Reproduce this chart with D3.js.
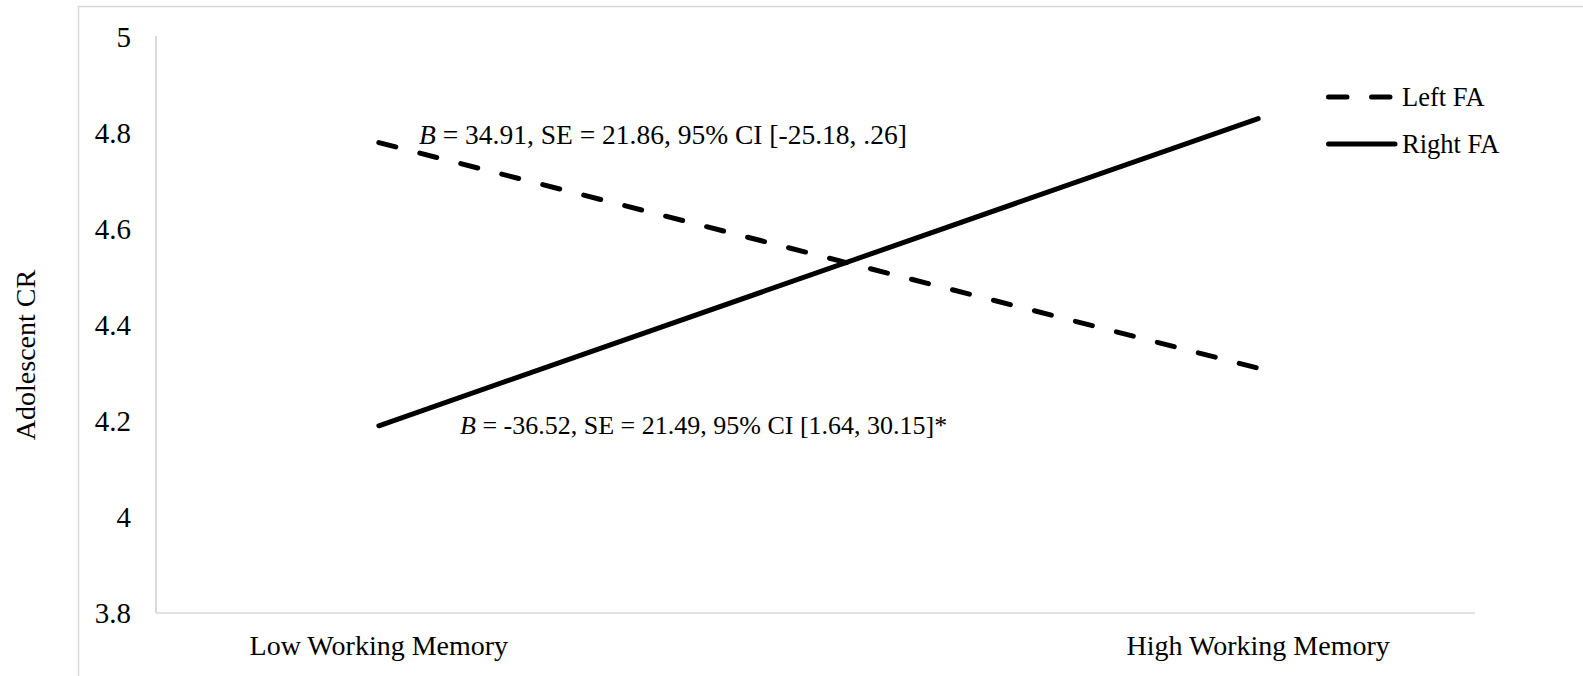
<!DOCTYPE html>
<html>
<head>
<meta charset="utf-8">
<script src="https://cdn.jsdelivr.net/npm/d3@7"></script>
<style>
  html, body { margin: 0; padding: 0; background: #fff; }
  svg { display: block; }
  svg text { font-family: "Liberation Serif", "Times New Roman", Times, "DejaVu Serif", serif; }
</style>
</head>
<body>
<svg id="chart" width="1583" height="676" font-family="Liberation Serif, Times New Roman, DejaVu Serif, serif"></svg>
<script>
// Simple slopes: Adolescent CR at low vs high working memory
const categories = ["Low Working Memory", "High Working Memory"];
const leftFA = [4.78, 4.31];
const rightFA = [4.19, 4.83];
const yTicks = [3.8, 4, 4.2, 4.4, 4.6, 4.8, 5];
const seriesNames = ["Left FA", "Right FA"];
const leftNote = " = 34.91, SE = 21.86, 95% CI [-25.18, .26]";
const rightNote = " = -36.52, SE = 21.49, 95% CI [1.64, 30.15]*";

const svg = d3.select("#chart");

// chart frame
svg.append("rect")
  .attr("x", 78.5).attr("y", 6.5)
  .attr("width", 1600).attr("height", 700)
  .attr("fill", "none").attr("stroke", "#d9d9d9").attr("stroke-width", 1.5);

const plot = { left: 156, right: 1475, top: 37, bottom: 613 };

const x = d3.scalePoint().domain(categories).range([159, 1478]).padding(0.25);
const y = d3.scaleLinear().domain([3.8, 5]).range([plot.bottom, plot.top]);

// axis lines
svg.append("line")
  .attr("x1", plot.left).attr("x2", plot.left)
  .attr("y1", 36).attr("y2", plot.bottom)
  .attr("stroke", "#cfcfcf").attr("stroke-width", 1.5);
svg.append("line")
  .attr("x1", plot.left).attr("x2", plot.right)
  .attr("y1", plot.bottom).attr("y2", plot.bottom)
  .attr("stroke", "#d9d9d9").attr("stroke-width", 1.5);

// y tick labels
svg.append("g").selectAll("text").data(yTicks).join("text")
  .attr("x", 131).attr("y", d => y(d)).attr("dy", "0.35em")
  .attr("text-anchor", "end").attr("font-size", 29).attr("fill", "#000")
  .text(d => String(+d.toFixed(1)));

// x category labels
svg.append("g").selectAll("text").data(categories).join("text")
  .attr("x", d => x(d)).attr("y", 655)
  .attr("text-anchor", "middle").attr("font-size", 28).attr("fill", "#000")
  .text(d => d);

// y axis title
svg.append("text")
  .attr("transform", "translate(35,355) rotate(-90)")
  .attr("text-anchor", "middle").attr("font-size", 28).attr("fill", "#000")
  .text("Adolescent CR");

// series lines
const line = d3.line().x((d, i) => x(categories[i])).y(d => y(d));
const dash = "17.5,24.8";
svg.append("path").datum(leftFA)
  .attr("d", line).attr("fill", "none").attr("stroke", "#000")
  .attr("stroke-width", 5).attr("stroke-linecap", "round")
  .attr("stroke-dasharray", dash);
svg.append("path").datum(rightFA)
  .attr("d", line).attr("fill", "none").attr("stroke", "#000")
  .attr("stroke-width", 5).attr("stroke-linecap", "round");

// slope annotations
function note(xp, yp, rest, size) {
  const t = svg.append("text").attr("x", xp).attr("y", yp)
    .attr("font-size", size).attr("fill", "#000");
  t.append("tspan").attr("font-style", "italic").text("B");
  t.append("tspan").text(rest);
}
note(419, 144, leftNote, 27.5);
note(460, 434, rightNote, 26);

// legend
const legend = svg.append("g");
const legY = [97, 144];
seriesNames.forEach((name, i) => {
  legend.append("line")
    .attr("x1", 1328.5).attr("x2", i === 0 ? 1390 : 1395)
    .attr("y1", legY[i]).attr("y2", legY[i])
    .attr("stroke", "#000").attr("stroke-width", 5).attr("stroke-linecap", "round")
    .attr("stroke-dasharray", i === 0 ? "18.5,24.5" : null);
  legend.append("text")
    .attr("x", 1402).attr("y", legY[i] + 9)
    .attr("font-size", 26.5).attr("fill", "#000")
    .text(name);
});
</script>
</body>
</html>
